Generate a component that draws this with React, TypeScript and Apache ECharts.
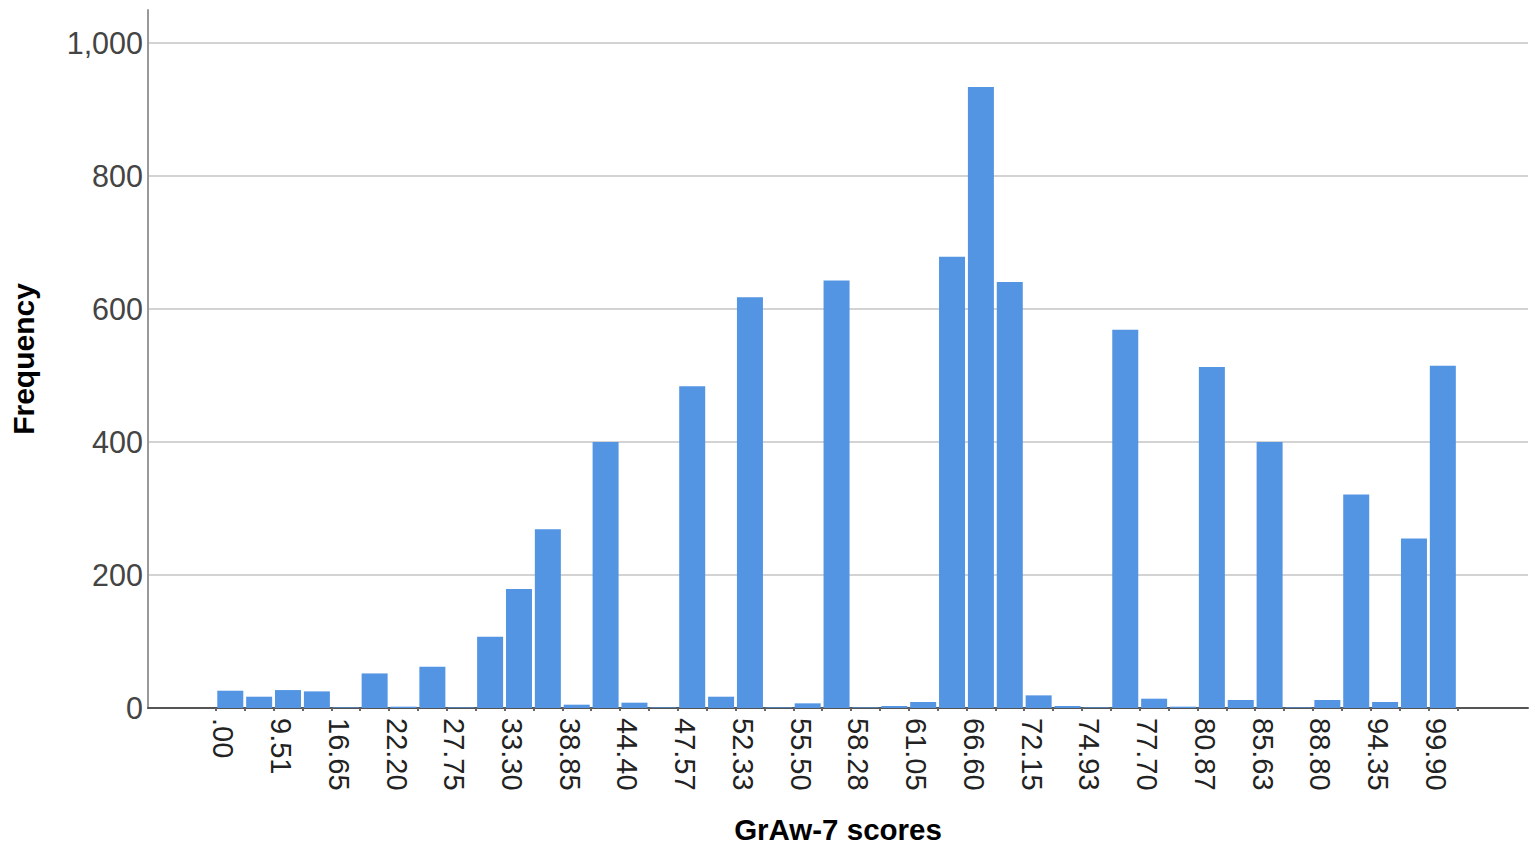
import React, { useEffect, useRef } from "react";
import * as echarts from "echarts";

const categories: string[] = [
  ".00", "5.55", "9.51", "11.10", "16.65", "19.03", "22.20", "23.79", "27.75", "28.55",
  "33.30", "38.06", "38.85", "42.82", "44.40", "47.18", "47.57", "49.95", "52.33", "52.73",
  "55.50", "57.09", "58.28", "59.46", "61.05", "61.85", "66.60", "71.36", "72.15", "72.94",
  "74.93", "76.13", "77.70", "78.89", "80.87", "83.25", "85.63", "87.23", "88.80", "90.41",
  "94.35", "95.14", "99.90",
];

const frequencies: number[] = [
  26, 17, 27, 25, 1, 52, 2, 62, 1, 107,
  179, 269, 5, 400, 8, 1, 484, 17, 618, 1,
  7, 643, 1, 3, 9, 679, 934, 641, 19, 3,
  1, 569, 14, 2, 513, 12, 400, 1, 12, 321,
  9, 255, 515,
];

const yTicks: number[] = [0, 200, 400, 600, 800, 1000];

const FONT = "'Liberation Sans', Arial, sans-serif";

export default function App() {
  const ref = useRef<HTMLDivElement>(null);

  useEffect(() => {
    if (!ref.current) return;
    const chart = echarts.init(ref.current, null, { renderer: "svg" });
    const labelIdx = categories.map((_, i) => i).filter((i) => i % 2 === 0);
    const tickIdx = [-0.5, ...categories.map((_, i) => i + 0.5)];
    chart.setOption({
      animation: false,
      backgroundColor: "#ffffff",
      grid: { left: 143, right: 9, top: 10, bottom: 143, containLabel: false },
      xAxis: {
        type: "value",
        min: -2.85,
        max: categories.length - 1 + 2.95,
        name: "GrAw-7 scores",
        nameLocation: "middle",
        nameGap: 106,
        nameTextStyle: { fontFamily: FONT, fontSize: 29.5, fontWeight: "bold", color: "#000" },
        axisLine: { show: true, onZero: false, lineStyle: { color: "#555", width: 2 } },
        axisTick: {
          show: true,
          customValues: tickIdx,
          length: 3,
          lineStyle: { color: "#666", width: 2 },
        },
        axisLabel: {
          customValues: labelIdx,
          rotate: -90,
          fontFamily: FONT,
          fontSize: 29,
          color: "#222",
          margin: 10,
          verticalAlign: "top",
          lineHeight: 14,
          formatter: (v: number) => categories[Math.round(v)] ?? "",
        },
        splitLine: { show: false },
      },
      yAxis: {
        type: "value",
        min: 0,
        max: 1050,
        interval: 200,
        name: "Frequency",
        nameLocation: "middle",
        nameGap: 110,
        nameRotate: 90,
        nameTextStyle: { fontFamily: FONT, fontSize: 30, fontWeight: "bold", color: "#000" },
        axisLine: { show: true, onZero: false, lineStyle: { color: "#999", width: 2 } },
        axisTick: { show: false },
        axisLabel: {
          fontFamily: FONT,
          fontSize: 30.5,
          color: "#444",
          margin: 5,
          showMaxLabel: false,
          formatter: (v: number) => (yTicks.includes(v) ? v.toLocaleString("en-US") : ""),
        },
        splitLine: { show: true, showMaxLine: false, lineStyle: { color: "#d3d3d3", width: 2 } },
      },
      series: [
        {
          type: "bar",
          data: frequencies.map((v, i) => [i, v]),
          barWidth: 26,
          itemStyle: { color: "#5495e3" },
        },
      ],
    });
    return () => chart.dispose();
  }, []);

  return (
    <div
      ref={ref}
      style={{ position: "fixed", left: 0, top: 0, width: 1537, height: 851, background: "#fff" }}
    />
  );
}
